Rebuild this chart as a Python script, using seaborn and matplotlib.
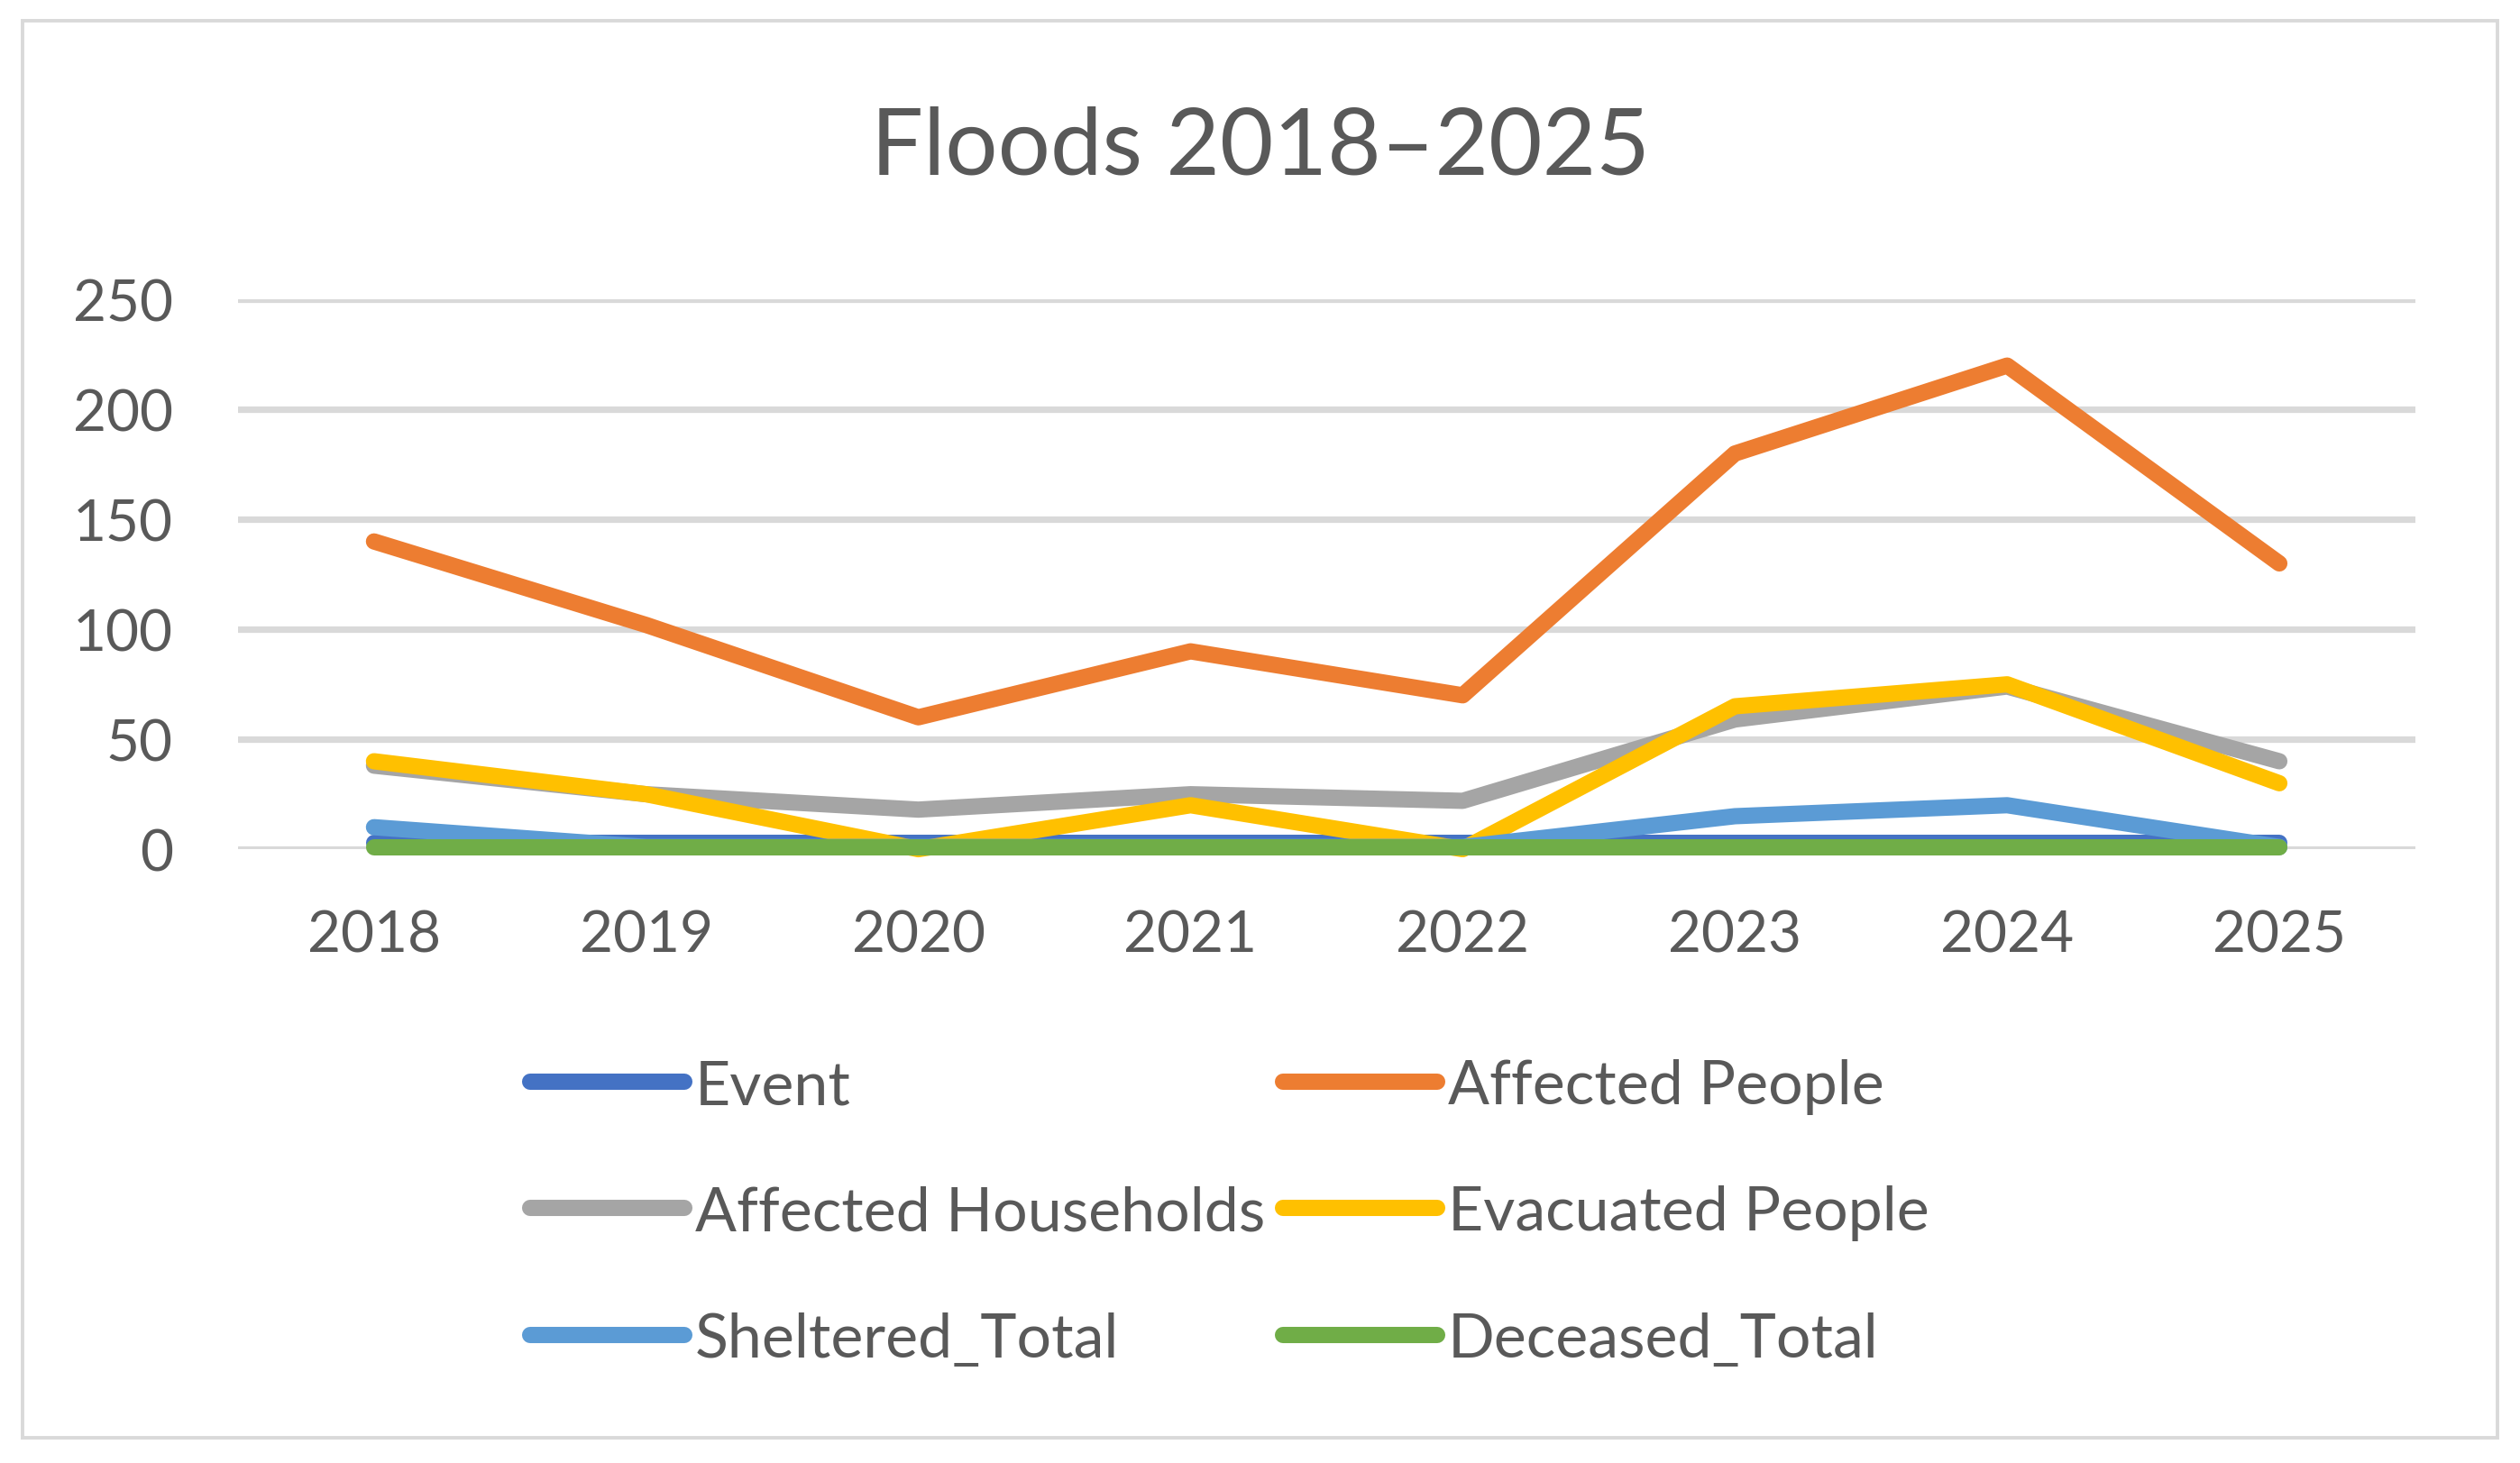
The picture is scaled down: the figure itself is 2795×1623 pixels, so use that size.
import numpy as np
import pandas as pd
import matplotlib
matplotlib.use("Agg")
import matplotlib.pyplot as plt
import seaborn as sns
from matplotlib.patches import Rectangle

years = ["2018", "2019", "2020", "2021", "2022", "2023", "2024", "2025"]
event = [3, 3, 3, 3, 3, 3, 3, 3]
affected_people = [140, 102, 60, 90, 70, 180, 220, 130]
affected_households = [38, 25, 18, 25, 22, 59, 74, 40]
evacuated_people = [40, 25, 0, 20, 0, 65, 75, 30]
sheltered_total = [10, 1, 1, 1, 1, 15, 20, 1]
deceased_total = [1, 1, 1, 1, 1, 1, 1, 1]

series_names = ["Event", "Affected People", "Affected Households",
                "Evacuated People", "Sheltered_Total", "Deceased_Total"]
colors = ["#4472C4", "#ED7D31", "#A5A5A5", "#FFC000", "#5B9BD5", "#70AD47"]

df = pd.DataFrame({
    "Year": years,
    "Event": event,
    "Affected People": affected_people,
    "Affected Households": affected_households,
    "Evacuated People": evacuated_people,
    "Sheltered_Total": sheltered_total,
    "Deceased_Total": deceased_total,
})
long_df = df.melt(id_vars="Year", var_name="Series", value_name="Value")

sns.set_theme(style="white")
plt.rcParams["font.family"] = ["Lato", "DejaVu Sans"]
text_color = "#595959"

fig = plt.figure(figsize=(13.975, 8.12), dpi=200)
ax = fig.add_axes([0.0944, 0.4193, 0.8641, 0.3754])

sns.lineplot(data=long_df, x="Year", y="Value", hue="Series",
             hue_order=series_names, palette=colors, linewidth=6.5,
             solid_capstyle="round", sort=False, ax=ax, zorder=3,
             clip_on=False)

ax.set_xlim(-0.5, len(years) - 0.5)
ax.set_ylim(0, 250)
ax.set_yticks([0, 50, 100, 150, 200, 250])
ax.yaxis.grid(True, color="#D9D9D9", linewidth=2.6, zorder=0)
ax.xaxis.grid(False)
for s in ax.spines.values():
    s.set_visible(False)
ax.tick_params(axis="both", length=0, labelsize=23, labelcolor=text_color)
ax.tick_params(axis="x", pad=24)
ax.tick_params(axis="y", pad=26)
ax.set_xlabel("")
ax.set_ylabel("")

handles, labels = ax.get_legend_handles_labels()
lookup = dict(zip(labels, handles))
order = ["Event", "Affected Households", "Sheltered_Total",
         "Affected People", "Evacuated People", "Deceased_Total"]
ax.legend([lookup[k] for k in order], order, ncol=2, loc="center",
          bbox_to_anchor=(0.488, 0.171), bbox_transform=fig.transFigure,
          frameon=False, fontsize=24.5, labelcolor=text_color,
          handlelength=2.5, handletextpad=0.18, columnspacing=0.3,
          labelspacing=1.15)

fig.text(0.5, 0.899, "Floods 2018\u20132025", ha="center", va="center",
         fontsize=37, color=text_color)

fig.patches.append(Rectangle((0.009, 0.017), 0.982, 0.968, fill=False,
                             edgecolor="#D9D9D9", linewidth=1.4,
                             transform=fig.transFigure, figure=fig))

fig.savefig("out.png", dpi=200, facecolor="white")
